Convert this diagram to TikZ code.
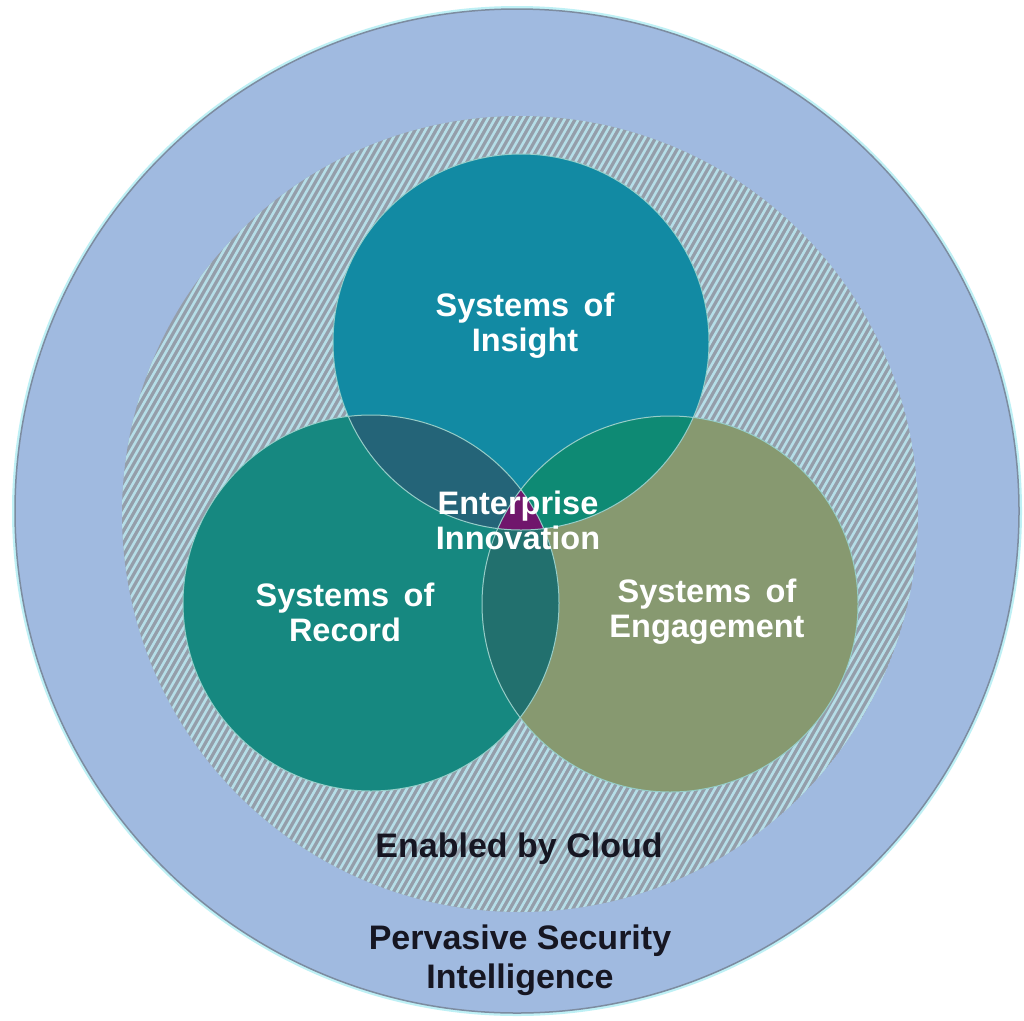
\documentclass[tikz,border=0pt]{standalone}
\usepackage{fontspec}
\setmainfont{Liberation Sans}
\begin{document}
\begin{tikzpicture}[x=1pt,y=-1pt,
  lbl/.style={font=\fontsize{32.5}{35}\selectfont\bfseries, align=center, text=white, inner sep=0pt},
  dlbl/.style={font=\fontsize{34}{39}\selectfont\bfseries, align=center, text=txtdark, inner sep=0pt},
  rim/.style={draw=rimcol, line width=1pt}]
\definecolor{outerblue}{RGB}{160,186,224}
\definecolor{outerline}{RGB}{125,140,160}
\definecolor{outerrim}{RGB}{190,240,245}
\definecolor{hatchbg}{RGB}{148,158,170}
\definecolor{hatchln}{RGB}{182,222,232}
\definecolor{insight}{RGB}{18,138,163}
\definecolor{record}{RGB}{22,136,128}
\definecolor{engage}{RGB}{135,153,112}
\definecolor{ir}{RGB}{36,100,120}
\definecolor{ie}{RGB}{14,138,116}
\definecolor{re}{RGB}{34,112,110}
\definecolor{ire}{RGB}{112,22,108}
\definecolor{rimcol}{RGB}{150,205,200}
\definecolor{txtdark}{RGB}{22,22,34}
\useasboundingbox (0,0) rectangle (1024,1020);
\fill[white] (0,0) rectangle (1024,1020);
% outer circle
\coordinate (oc) at (517,511);
\fill[outerrim] (oc) circle (505);
\fill[outerblue,draw=outerline,line width=1.5pt] (oc) circle (502);
% hatched circle
\coordinate (hc) at (520,514);
\begin{scope}
  \clip (hc) circle (398);
  \fill[hatchbg] (hc) circle (398);
  \foreach \i in {-340,-333,...,1000} {
    \draw[hatchln,line width=2.6pt] (\i,920) -- (\i+462,110);
  }
\end{scope}
% three circles
\coordinate (ci) at (521,342);
\coordinate (cr) at (371,603);
\coordinate (ce) at (670,604);
\def\rr{188}
\fill[insight] (ci) circle (\rr);
\fill[record] (cr) circle (\rr);
\fill[engage] (ce) circle (\rr);
\begin{scope}\clip (ci) circle (\rr); \fill[ir] (cr) circle (\rr); \end{scope}
\begin{scope}\clip (ci) circle (\rr); \fill[ie] (ce) circle (\rr); \end{scope}
\begin{scope}\clip (cr) circle (\rr); \fill[re] (ce) circle (\rr); \end{scope}
\begin{scope}\clip (ci) circle (\rr); \clip (cr) circle (\rr); \fill[ire] (ce) circle (\rr); \end{scope}
\draw[rim] (ci) circle (\rr);
\draw[rim] (cr) circle (\rr);
\draw[rim] (ce) circle (\rr);
% labels
\node[lbl] (tins) at (525,326) {Systems\, of\\Insight};
\node[lbl] (trec) at (345,612) {Systems\, of\\Record};
\node[lbl] (teng) at (707,612) {Systems\, of\\Engagement};
\node[lbl] (tent) at (518,520) {Enterprise\\Innovation};
\node[dlbl] (tcld) at (519,849) {Enabled by Cloud};
\node[dlbl] (tsec) at (520,960) {Pervasive Security\\Intelligence};
\end{tikzpicture}
\end{document}
